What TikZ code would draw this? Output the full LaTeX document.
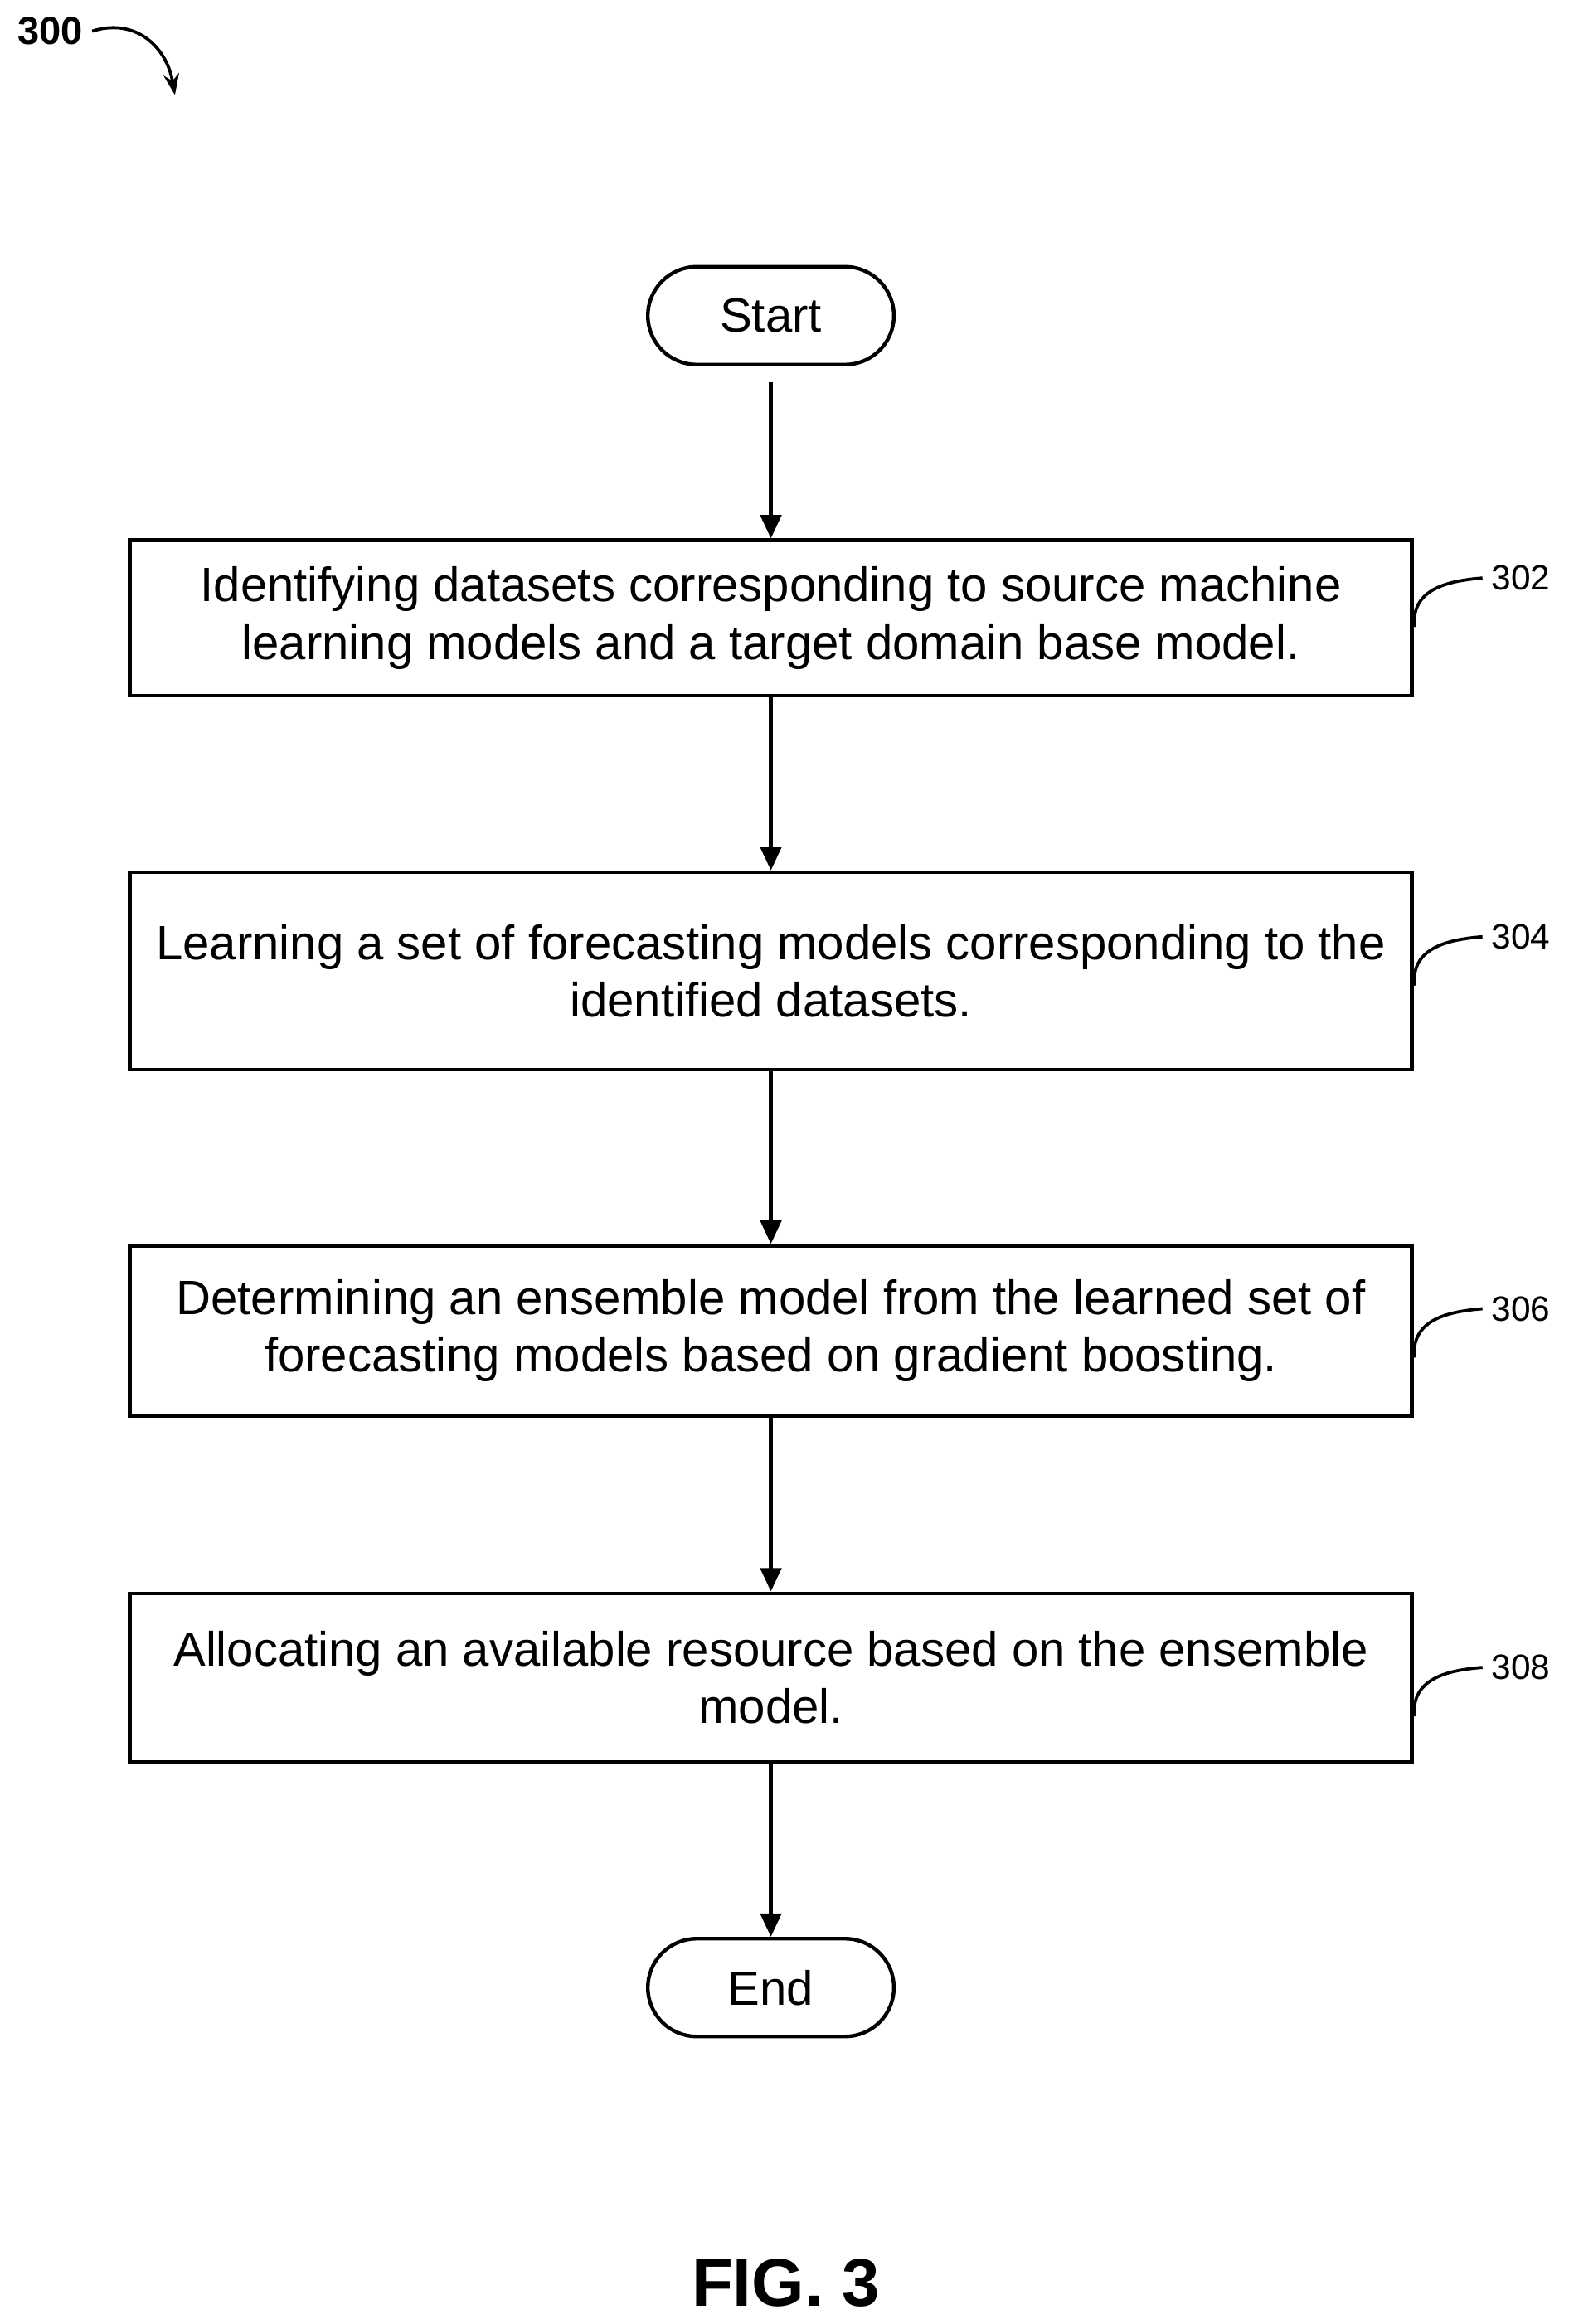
\documentclass[tikz,border=0pt]{standalone}
\usepackage{fontspec}
\setmainfont{Liberation Sans}
\usetikzlibrary{positioning,arrows.meta}
\tikzset{
    procbox/.style={draw, line width=1.4pt, minimum width=17.3cm, minimum height=2.1cm,
        align=center, font=\fontsize{18.5}{22}\selectfont},
    term/.style={draw, line width=1.4pt, rounded corners=0.66cm, minimum width=3.32cm,
        minimum height=1.32cm, font=\fontsize{18.5}{22}\selectfont},
    arrow/.style={-{Triangle[length=9pt,width=8pt]}, line width=1.4pt},
    refnum/.style={font=\fontsize{13.5}{15}\selectfont},
    hook/.style={line width=1.2pt}
}
\begin{document}
\begin{tikzpicture}[x=0.02cm, y=-0.02cm]
\useasboundingbox (0,0) rectangle (1058,1568);

% ===============================
%            steps
% ===============================

\node[term] (start) at (520,213) {Start};
\node[procbox] (s302) at (520,417) {Identifying datasets corresponding to source machine\\learning models and a target domain base model.};
\node[procbox, minimum height=2.66cm] (s304) at (520,655) {Learning a set of forecasting models corresponding to the\\identified datasets.};
\node[procbox, minimum height=2.3cm] (s306) at (520,898) {Determining an ensemble model from the learned set of\\forecasting models based on gradient boosting.};
\node[procbox, minimum height=2.28cm] (s308) at (520,1132) {Allocating an available resource based on the ensemble\\model.};
\node[term] (end) at (520,1341) {End};

% ===============================
%            arrows
% ===============================

\coordinate (s0) at (520,258);
\draw[arrow] (s0) -- (s302.north);
\draw[arrow] (s302) -- (s304);
\draw[arrow] (s304) -- (s306);
\draw[arrow] (s306) -- (s308);
\draw[arrow] (s308) -- (end);

% ===============================
%        reference numerals
% ===============================

\foreach \n/\yy in {302/390, 304/632, 306/883, 308/1125} {
    \node[refnum, anchor=west] (n\n) at (1000,\yy) {\n};
    \draw[hook] (954,\yy+33) .. controls (952,\yy+8) and (975,\yy+2) .. (n\n.west);
}

\node[font=\bfseries\fontsize{15}{17}\selectfont] (n300) at (34,21) {300};
\coordinate (a300) at (118,64);
\draw[-{Stealth[length=8pt]}, line width=1.2pt] (n300.east) .. controls (90,12) and (112,30) .. (a300);

\node[font=\bfseries\fontsize{26}{30}\selectfont] (fig) at (530,1540) {FIG. 3};
\end{tikzpicture}
\end{document}
